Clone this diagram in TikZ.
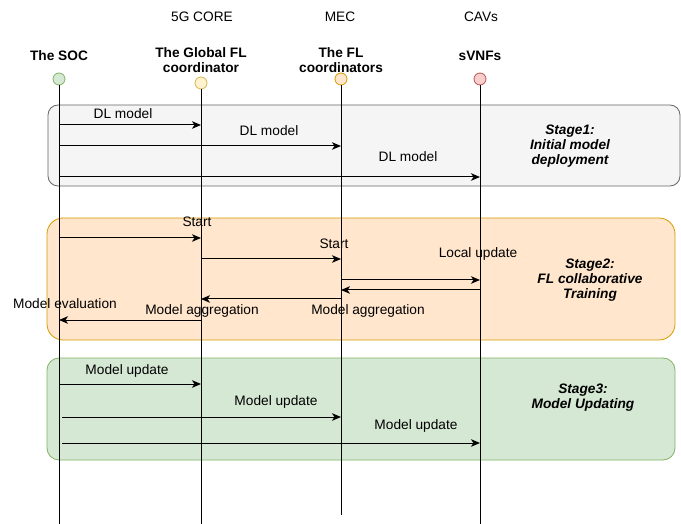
\documentclass[tikz,border=0pt]{standalone}
\usepackage{fontspec}
\setmainfont{Liberation Sans}
\usetikzlibrary{arrows.meta, positioning}
\definecolor{socfill}{HTML}{D5E8D4}
\definecolor{socline}{HTML}{82B366}
\definecolor{glbfill}{HTML}{FFF2CC}
\definecolor{glbline}{HTML}{D6B656}
\definecolor{flfill}{HTML}{FFE6CC}
\definecolor{flline}{HTML}{D79B00}
\definecolor{vnffill}{HTML}{F8CECC}
\definecolor{vnfline}{HTML}{B85450}
\definecolor{grayfill}{HTML}{F5F5F5}
\definecolor{grayline}{HTML}{666666}

\begin{document}
\begin{tikzpicture}[x=1pt, y=-1pt, font=\fontsize{13.7}{15}\selectfont,
    head/.style={circle, line width=0.8pt, minimum size=12pt, inner sep=0pt},
    life/.style={line width=1pt, black},
    msg/.style={-{Stealth[length=9pt, width=7.5pt, inset=2.5pt]}, line width=1pt},
    lbl/.style={inner sep=0pt, align=center},
    stagebox/.style={line width=0.8pt, inner sep=0pt},
    stagetxt/.style={inner sep=0pt, align=center, font=\fontsize{13.7}{15}\selectfont\bfseries\itshape}]
      \useasboundingbox (0,0) rectangle (681,524);
      % domini
      \node[lbl] (core) at (202,17) {5G CORE};
      \node[lbl] (mec) at (340,17) {MEC};
      \node[lbl] (cavs) at (481,17) {CAVs};
      % attori
      \node[lbl, font=\fontsize{13.7}{15}\selectfont\bfseries] (socname) at (59,56) {The SOC};
      \node[lbl, font=\fontsize{13.7}{15}\selectfont\bfseries] (glbname) at (201,60) {The Global FL\\coordinator};
      \node[lbl, font=\fontsize{13.7}{15}\selectfont\bfseries] (flname) at (341,60) {The FL\\coordinators};
      \node[lbl, font=\fontsize{13.7}{15}\selectfont\bfseries] (vnfname) at (480,56) {sVNFs};
      % riquadri delle fasi
      \node[stagebox, draw=grayline, fill=grayfill, rounded corners=10pt, minimum width=632pt, minimum height=81pt] (stage1) at (364,145.5) {};
      \node[stagebox, draw=flline, fill=flfill, rounded corners=16pt, minimum width=628pt, minimum height=122pt] (stage2) at (361,279) {};
      \node[stagebox, draw=socline, fill=socfill, rounded corners=12pt, minimum width=628pt, minimum height=102pt] (stage3) at (361,409) {};
      % teste delle linee di vita
      \node[head, draw=socline, fill=socfill] (soc) at (59,79) {};
      \node[head, draw=glbline, fill=glbfill] (glb) at (201,83) {};
      \node[head, draw=flline, fill=flfill] (fl) at (341,79) {};
      \node[head, draw=vnfline, fill=vnffill] (vnf) at (480,79) {};
      \coordinate (socend) at (59,524);
      \coordinate (glbend) at (201,524);
      \coordinate (flend) at (341,515);
      \coordinate (vnfend) at (480,524);
      \draw[life] (soc) -- (socend);
      \draw[life] (glb) -- (glbend);
      \draw[life] (fl) -- (flend);
      \draw[life] (vnf) -- (vnfend);
      % Stage1
      \draw[msg] (soc |- 0,125) -- (glb |- 0,125);
      \draw[msg] (soc |- 0,146) -- (fl |- 0,146);
      \draw[msg] (soc |- 0,177) -- (vnf |- 0,177);
      \node[lbl] (dl1) at (123,114) {DL model};
      \node[lbl] (dl2) at (269,131) {DL model};
      \node[lbl] (dl3) at (408,157) {DL model};
      \node[stagetxt] (s1txt) at (570,146) {Stage1:\\Initial model\\deployment};
      % Stage2
      \draw[msg] (soc |- 0,238) -- (glb |- 0,238);
      \draw[msg] (glb |- 0,259) -- (fl |- 0,259);
      \draw[msg] (fl |- 0,280) -- (vnf |- 0,280);
      \draw[msg] (vnf |- 0,290) -- (fl |- 0,290);
      \draw[msg] (fl |- 0,299) -- (glb |- 0,299);
      \draw[msg] (glb |- 0,320) -- (soc |- 0,320);
      \node[lbl] (start1) at (197,222) {Start};
      \node[lbl] (start2) at (334,244) {Start};
      \node[lbl] (locupd) at (478,254) {Local update};
      \node[lbl] (eval) at (65,304) {Model evaluation};
      \node[lbl] (aggr1) at (202,311) {Model aggregation};
      \node[lbl] (aggr2) at (368,311) {Model aggregation};
      \node[stagetxt] (s2txt) at (590,280) {Stage2:\\FL collaborative\\Training};
      % Stage3
      \draw[msg] (soc |- 0,384) -- (glb |- 0,384);
      \draw[msg] ([xshift=3pt]soc |- 0,417) -- (fl |- 0,417);
      \draw[msg] ([xshift=3pt]soc |- 0,443) -- (vnf |- 0,443);
      \node[lbl] (upd1) at (127,371) {Model update};
      \node[lbl] (upd2) at (276,402) {Model update};
      \node[lbl] (upd3) at (416,426) {Model update};
      \node[stagetxt] (s3txt) at (583,397.5) {Stage3:\\Model Updating};
    \end{tikzpicture}
\end{document}
